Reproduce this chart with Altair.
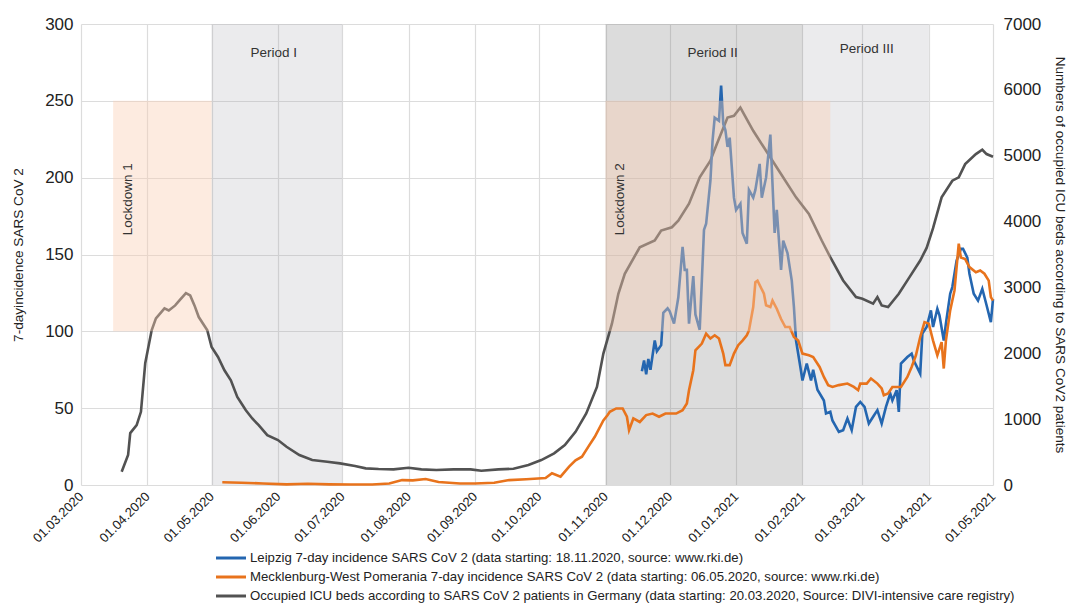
import altair as alt
import pandas as pd

FONT = "Liberation Sans"

# ---------------- data ----------------
icu_dates = ["2020-03-20","2020-03-23","2020-03-24","2020-03-27","2020-03-29","2020-03-31","2020-04-03","2020-04-05",
             "2020-04-09","2020-04-11","2020-04-14","2020-04-16","2020-04-19","2020-04-21","2020-04-23","2020-04-25",
             "2020-04-29","2020-05-01","2020-05-04","2020-05-07","2020-05-10","2020-05-13","2020-05-17","2020-05-20",
             "2020-05-23","2020-05-27","2020-06-01","2020-06-05","2020-06-11","2020-06-17","2020-06-24","2020-06-30",
             "2020-07-07","2020-07-12","2020-07-18","2020-07-25","2020-08-01","2020-08-07","2020-08-14","2020-08-22",
             "2020-08-30","2020-09-04","2020-09-12","2020-09-19","2020-09-26","2020-10-02","2020-10-08","2020-10-13",
             "2020-10-18","2020-10-23","2020-10-28","2020-10-31","2020-11-04","2020-11-07","2020-11-10","2020-11-17",
             "2020-11-24","2020-11-27","2020-12-02","2020-12-05","2020-12-10","2020-12-15","2020-12-20","2020-12-23",
             "2020-12-28","2020-12-31","2021-01-03","2021-01-09","2021-01-15","2021-01-21","2021-01-29","2021-02-04",
             "2021-02-10","2021-02-14","2021-02-20","2021-02-26","2021-03-01","2021-03-06","2021-03-08","2021-03-10",
             "2021-03-13","2021-03-18","2021-03-23","2021-03-28","2021-03-31","2021-04-03","2021-04-07","2021-04-12",
             "2021-04-15","2021-04-18","2021-04-23","2021-04-26","2021-04-28","2021-05-01"]
icu_values = [200,455,788,909,1111,1848,2348,2530,
              2681,2651,2727,2803,2914,2878,2727,2550,
              2348,2095,1944,1742,1591,1338,1136,1010,
              909,757,682,580,455,379,353,328,
              288,253,242,237,262,237,227,237,
              237,217,237,247,303,379,480,606,
              808,1086,1490,1995,2450,2904,3207,3610,
              3712,3863,3914,4015,4272,4671,4924,5177,
              5580,5606,5732,5379,5075,4772,4368,4116,
              3712,3459,3106,2853,2828,2753,2853,2727,
              2702,2904,3156,3409,3600,3900,4368,4621,
              4671,4873,5025,5090,5025,4984]

mv_dates = ["2020-05-06","2020-05-15","2020-05-25","2020-06-05","2020-06-15","2020-06-25","2020-07-05","2020-07-15",
            "2020-07-23","2020-07-29","2020-08-03","2020-08-09","2020-08-15","2020-08-25","2020-09-01","2020-09-10",
            "2020-09-17","2020-09-25","2020-10-04","2020-10-07","2020-10-11","2020-10-15","2020-10-18","2020-10-21",
            "2020-10-24","2020-10-27","2020-10-31","2020-11-02","2020-11-03","2020-11-06","2020-11-09","2020-11-11",
            "2020-11-12","2020-11-14","2020-11-17","2020-11-20","2020-11-23","2020-11-26","2020-11-29","2020-12-04",
            "2020-12-07","2020-12-09","2020-12-10","2020-12-12","2020-12-13","2020-12-16","2020-12-18","2020-12-20",
            "2020-12-22","2020-12-24","2020-12-26","2020-12-27","2020-12-29","2020-12-31","2021-01-02","2021-01-04",
            "2021-01-06","2021-01-07","2021-01-09","2021-01-10","2021-01-11","2021-01-14","2021-01-15","2021-01-17",
            "2021-01-18","2021-01-20","2021-01-22","2021-01-24","2021-01-26","2021-01-28","2021-01-30","2021-02-01",
            "2021-02-04","2021-02-06","2021-02-09","2021-02-11","2021-02-13","2021-02-15","2021-02-18","2021-02-22",
            "2021-02-25","2021-02-27","2021-02-28","2021-03-03","2021-03-05","2021-03-08","2021-03-10","2021-03-11",
            "2021-03-13","2021-03-15","2021-03-19","2021-03-22","2021-03-24","2021-03-26","2021-03-28","2021-03-30",
            "2021-04-01","2021-04-03","2021-04-05","2021-04-07","2021-04-08","2021-04-09","2021-04-11","2021-04-13",
            "2021-04-15","2021-04-16","2021-04-18","2021-04-20","2021-04-23","2021-04-25","2021-04-27","2021-04-29",
            "2021-04-30","2021-05-01"]
mv_values = [1.8,1.5,1.0,0.4,0.8,0.4,0.3,0.3,
             1.0,3.2,3.0,3.9,2.0,1.0,1.0,1.5,
             3.2,3.7,4.5,7.6,5.4,12,16,18.4,
             25,31.4,42,45.5,47.6,49.8,49.8,44.4,
             35.7,43.3,41,45.5,46.5,44.4,46.5,46.5,
             48.7,53,61.7,74.7,87.7,92,98.5,95.3,
             97.4,95.3,85.5,78,78,85.5,91,94,
             97.4,100.6,115.8,132,133,124.5,117,115.8,
             120,114.7,108,102.8,102.8,96.3,94,85.5,
             84.4,83.3,76.8,70.3,65,63.8,65,66,
             63.8,61.7,66,66,69.3,66,62.8,58.4,
             59.5,63.8,63.8,70.3,76.8,84.4,96.3,106,
             105,94,84.4,93,75.8,94,113.6,126.6,
             157,148,147,141.8,138.5,139.6,137.5,133,
             122.3,120]

lei_dates = ["2020-11-18","2020-11-19","2020-11-20","2020-11-21","2020-11-22","2020-11-24","2020-11-25","2020-11-27",
             "2020-11-28","2020-11-30","2020-12-01","2020-12-03","2020-12-05","2020-12-07","2020-12-08","2020-12-09",
             "2020-12-10","2020-12-12","2020-12-13","2020-12-15","2020-12-16","2020-12-17","2020-12-18","2020-12-20",
             "2020-12-21","2020-12-22","2020-12-24","2020-12-25","2020-12-26","2020-12-27","2020-12-28","2020-12-29",
             "2020-12-31","2021-01-01","2021-01-03","2021-01-04","2021-01-06","2021-01-07","2021-01-09","2021-01-10",
             "2021-01-12","2021-01-13","2021-01-15","2021-01-17","2021-01-19","2021-01-20","2021-01-22","2021-01-23",
             "2021-01-25","2021-01-27","2021-01-28","2021-01-29","2021-01-31","2021-02-01","2021-02-03","2021-02-05",
             "2021-02-06","2021-02-08","2021-02-11","2021-02-12","2021-02-14","2021-02-15","2021-02-18","2021-02-20",
             "2021-02-22","2021-02-24","2021-02-26","2021-02-28","2021-03-02","2021-03-04","2021-03-06","2021-03-08",
             "2021-03-10","2021-03-12","2021-03-14","2021-03-15","2021-03-17","2021-03-18","2021-03-19","2021-03-22",
             "2021-03-24","2021-03-25","2021-03-28","2021-03-29","2021-03-31","2021-04-02","2021-04-03","2021-04-05",
             "2021-04-06","2021-04-08","2021-04-09","2021-04-11","2021-04-12","2021-04-14","2021-04-16","2021-04-17",
             "2021-04-19","2021-04-20","2021-04-22","2021-04-24","2021-04-26","2021-04-28","2021-04-30","2021-05-01"]
lei_values = [74,81,72,82,75,94,87,91,
              112,115,113,105,122,155,140,140,
              105,136,111,101,133,166,170,198,
              224,239,237,260,235,231,220,226,
              187,179,183,164,157,192,187,192,
              209,187,200,228,164,179,140,159,
              151,133,116,94,77,68,79,68,
              75,62,55,46.5,47.6,42,34.6,35.7,
              43.3,35.7,50.8,54,50.8,40,44.4,48.7,
              40,50.8,59.5,55,61.7,47.6,79,83.3,
              85.5,81,72.5,98.5,102.8,113.6,102.8,114.7,
              110.4,94,105,124.5,128.8,146,153.7,153.7,
              148,137.5,124.5,120,127.7,117,106,121]

SERIES = [
    "Leipzig 7-day incidence SARS CoV 2 (data starting: 18.11.2020, source: www.rki.de)",
    "Mecklenburg-West Pomerania 7-day incidence SARS CoV 2 (data starting: 06.05.2020, source: www.rki.de)",
    "Occupied ICU beds according to SARS CoV 2 patients in Germany (data starting: 20.03.2020, Source: DIVI-intensive care registry)",
]
COLORS = ["#2466b0", "#e8731c", "#525252"]

period_names = ["Period I", "Period II", "Period III"]
period_starts = ["2020-05-01", "2020-11-01", "2021-02-01"]
period_ends = ["2020-07-01", "2021-02-01", "2021-04-01"]
period_shade = ["light", "dark", "light"]
period_label_dates = ["2020-05-30", "2020-12-21", "2021-03-03"]
period_label_levels = [281, 281, 283.5]

lockdown_names = ["Lockdown 1", "Lockdown 2"]
lockdown_starts = ["2020-03-16", "2020-11-01"]
lockdown_ends = ["2020-05-01", "2021-02-14"]
lockdown_low = [100, 100]
lockdown_high = [250, 250]
lockdown_label_dates = ["2020-03-23", "2020-11-08"]
lockdown_label_levels = [186, 186]

month_ticks = [(2020, m) for m in range(3, 13)] + [(2021, m) for m in range(1, 6)]

# ---------------- frames ----------------
icu_df = pd.DataFrame({"date": icu_dates, "value": icu_values, "series": SERIES[2]})
mv_df = pd.DataFrame({"date": mv_dates, "value": mv_values, "series": SERIES[1]})
lei_df = pd.DataFrame({"date": lei_dates, "value": lei_values, "series": SERIES[0]})
per_df = pd.DataFrame({"name": period_names, "start": period_starts, "end": period_ends,
                       "shade": period_shade, "ldate": period_label_dates, "lval": period_label_levels})
lock_df = pd.DataFrame({"name": lockdown_names, "start": lockdown_starts, "end": lockdown_ends,
                        "low": lockdown_low, "high": lockdown_high,
                        "ldate": lockdown_label_dates, "lval": lockdown_label_levels})

# ---------------- scales / axes ----------------
xscale = alt.Scale(type="utc", nice=False,
                   domain=[alt.DateTime(year=2020, month=3, date=1, utc=True),
                           alt.DateTime(year=2021, month=5, date=1, utc=True)])
xaxis = alt.Axis(values=[alt.DateTime(year=y, month=m, date=1, utc=True) for y, m in month_ticks],
                 format="%d.%m.%Y", labelAngle=-45, labelAlign="right",
                 labelBaseline="middle", labelPadding=9, labelFontSize=13, labelColor="#222",
                 labelFlush=False, labelOverlap=False, grid=True, gridColor="#dcdcdc", gridWidth=1.2,
                 domain=False, ticks=False, title=None)
yL = alt.Scale(domain=[0, 300], nice=False)
yR = alt.Scale(domain=[0, 7000], nice=False)
yaxisL = alt.Axis(values=[0, 50, 100, 150, 200, 250, 300], labelFontSize=17, labelColor="#222",
                  labelPadding=8, grid=True, gridColor="#dcdcdc", gridWidth=1.2, domain=False, ticks=False,
                  title="7-dayincidence SARS CoV 2", titleFontSize=13.6, titleFontWeight="normal",
                  titleColor="#222", titleX=-63, titleY=230.5, titleAngle=270, titleAlign="center",
                  titleBaseline="middle")
yaxisR = alt.Axis(orient="right", values=[0, 1000, 2000, 3000, 4000, 5000, 6000, 7000], format="d",
                  labelFontSize=17, labelColor="#222", labelPadding=10, grid=False, domain=False, ticks=False,
                  title="Numbers of occupied ICU beds according to SARS CoV2 patients", titleFontSize=13.6,
                  titleFontWeight="normal", titleColor="#222", titleX=66, titleY=230.5, titleAngle=90,
                  titleAlign="center", titleBaseline="middle")

color = alt.Color("series:N", scale=alt.Scale(domain=SERIES, range=COLORS),
                  legend=alt.Legend(orient="none", legendX=141, legendY=525, direction="vertical", title=None,
                                    symbolType="M-2,0H2", symbolStrokeWidth=3, symbolSize=225,
                                    labelFontSize=13.2, labelColor="#222", labelLimit=2000, labelOffset=10,
                                    rowPadding=3, columns=1))

# ---------------- layers ----------------
periods_light = alt.Chart(per_df).transform_filter(alt.datum.shade == "light").mark_rect(
    color="#9c9ca6", opacity=0.2).encode(
    x=alt.X("start:T", scale=xscale, axis=xaxis), x2="end:T",
    y=alt.YDatum(0, type="quantitative", scale=yL, axis=yaxisL), y2=alt.Y2Datum(300))

periods_dark = alt.Chart(per_df).transform_filter(alt.datum.shade == "dark").mark_rect(
    color="#7f7f7f", opacity=0.27).encode(
    x=alt.X("start:T", scale=xscale, axis=xaxis), x2="end:T",
    y=alt.YDatum(0, type="quantitative", scale=yL, axis=None), y2=alt.Y2Datum(300))

icu = alt.Chart(icu_df).mark_line(strokeWidth=2.6).encode(
    x=alt.X("date:T", scale=xscale, axis=xaxis),
    y=alt.Y("value:Q", scale=yR, axis=yaxisR), color=color)

lei = alt.Chart(lei_df).mark_line(strokeWidth=2.6).encode(
    x=alt.X("date:T", scale=xscale, axis=xaxis),
    y=alt.Y("value:Q", scale=yL, axis=None), color=color)

mv = alt.Chart(mv_df).mark_line(strokeWidth=2.6).encode(
    x=alt.X("date:T", scale=xscale, axis=xaxis),
    y=alt.Y("value:Q", scale=yL, axis=None), color=color)

lock = alt.Chart(lock_df).mark_rect(color="#facdb1", opacity=0.4).encode(
    x=alt.X("start:T", scale=xscale, axis=xaxis), x2="end:T",
    y=alt.Y("low:Q", scale=yL, axis=None), y2="high:Q")

per_text = alt.Chart(per_df).mark_text(fontSize=13.5, color="#333", font=FONT).encode(
    x=alt.X("ldate:T", scale=xscale, axis=xaxis),
    y=alt.Y("lval:Q", scale=yL, axis=None), text="name:N")

lock_text = alt.Chart(lock_df).mark_text(fontSize=13.5, color="#333", font=FONT, angle=270).encode(
    x=alt.X("ldate:T", scale=xscale, axis=xaxis),
    y=alt.Y("lval:Q", scale=yL, axis=None), text="name:N")

chart = alt.layer(periods_light, periods_dark, icu, lei, mv, lock, per_text, lock_text).resolve_scale(
    y="independent").properties(
    width=912, height=461,
    autosize=alt.AutoSizeParams(type="none"),
    padding={"left": 73, "top": 16, "right": 74, "bottom": 119},
).configure(font=FONT).configure_view(stroke=None)

chart.save("out.html", embed_options={"renderer": "svg", "actions": False})
